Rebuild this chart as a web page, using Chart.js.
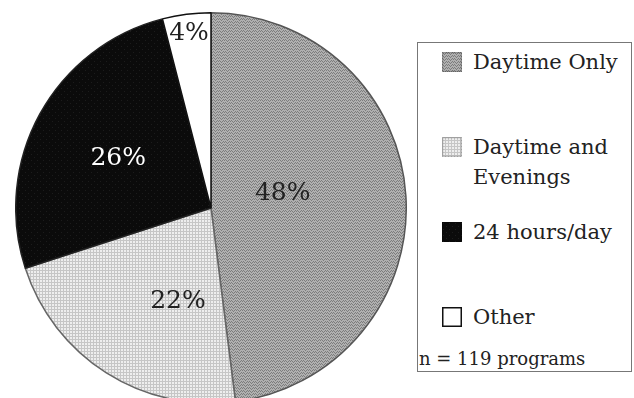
<!DOCTYPE html>
<html>
<head>
<meta charset="utf-8">
<script src="https://cdn.jsdelivr.net/npm/chart.js@4/dist/chart.umd.min.js"></script>
<style>
  html, body { margin: 0; padding: 0; background: #fff; }
  body { width: 634px; height: 398px; position: relative; overflow: hidden; font-family: 'DejaVu Serif', serif; color: #222; }
  #pieWrap { position: absolute; left: 15px; top: 12px; width: 392px; height: 392px; }
  #legend { position: absolute; left: 417px; top: 42px; width: 213px; height: 328px; border: 1.5px solid #777; }
  .row { position: absolute; left: 24px; display: flex; align-items: flex-start; }
  .row canvas { width: 20px; height: 20px; margin-right: 11px; flex: none; }
  .row span { font-size: 21px; line-height: 30px; width: 165px; margin-top: -5px; }
  #note { position: absolute; left: 1px; top: 305px; font-size: 18px; white-space: nowrap; }
</style>
</head>
<body>
<div id="pieWrap"><canvas id="pie" width="392" height="392"></canvas></div>
<div id="legend"></div>
<script>
// data
const categories = ['Daytime Only', 'Daytime and Evenings', '24 hours/day', 'Other'];
const shares = [48, 22, 26, 4];
const sampleNote = 'n = 119 programs';

// fill textures that mimic the printed hatching
function makePattern(kind) {
  const c = document.createElement('canvas');
  c.width = 6; c.height = 6;
  const g = c.getContext('2d');
  if (kind === 0) {
    g.fillStyle = '#b0b0b0'; g.fillRect(0, 0, 6, 6);
    g.fillStyle = '#7c7c7c';
    [[0,0],[1,1],[2,2],[3,1],[4,0],[5,1],[0,3],[1,4],[2,5],[3,4],[4,3],[5,4]].forEach(p => g.fillRect(p[0], p[1], 1, 1));
  } else if (kind === 1) {
    g.fillStyle = '#eeeeee'; g.fillRect(0, 0, 6, 6);
    g.fillStyle = '#c6c6c6';
    g.fillRect(0, 0, 6, 1); g.fillRect(0, 3, 6, 1);
    g.fillRect(0, 0, 1, 6); g.fillRect(3, 0, 1, 6);
  } else if (kind === 2) {
    g.fillStyle = '#0b0b0b'; g.fillRect(0, 0, 6, 6);
    g.fillStyle = '#1c1c1c'; g.fillRect(1, 1, 1, 1); g.fillRect(4, 4, 1, 1);
  } else {
    g.fillStyle = '#ffffff'; g.fillRect(0, 0, 6, 6);
  }
  return c;
}
const tiles = categories.map((_, i) => makePattern(i));
const ctx = document.getElementById('pie').getContext('2d');
const fills = tiles.map(t => ctx.createPattern(t, 'repeat'));

// where each percentage sits inside its slice (fraction of radius, angle nudge in degrees)
const labelRadius = [0.375, 0.51, 0.54, 0.9];
const labelNudge = [-8, -13, -0.5, 0];
const labelColor = ['#222', '#222', '#fff', '#222'];

const pctLabels = {
  id: 'pctLabels',
  afterDatasetsDraw(chart) {
    const c = chart.ctx;
    const meta = chart.getDatasetMeta(0);
    c.save();
    c.font = '25px "DejaVu Serif"';
    c.textAlign = 'center';
    c.textBaseline = 'middle';
    meta.data.forEach((arc, i) => {
      const p = arc.getProps(['x', 'y', 'startAngle', 'endAngle', 'outerRadius'], true);
      const a = (p.startAngle + p.endAngle) / 2 + labelNudge[i] * Math.PI / 180;
      const r = p.outerRadius * labelRadius[i];
      c.fillStyle = labelColor[i];
      c.fillText(shares[i] + '%', p.x + r * Math.cos(a), p.y + r * Math.sin(a));
    });
    c.restore();
  }
};

new Chart(ctx, {
  type: 'pie',
  data: {
    labels: categories,
    datasets: [{
      data: shares,
      backgroundColor: fills,
      borderColor: ['#555', '#666', '#222', '#111'],
      borderWidth: [1.5, 1.5, 1.5, 1.5]
    }]
  },
  options: {
    responsive: false,
    animation: false,
    layout: { padding: 0 },
    plugins: { legend: { display: false }, tooltip: { enabled: false } }
  },
  plugins: [pctLabels]
});

// boxed legend on the right
const legend = document.getElementById('legend');
const rowTops = [9, 94, 179, 264];
categories.forEach((name, i) => {
  const row = document.createElement('div');
  row.className = 'row';
  row.style.top = rowTops[i] + 'px';
  const sw = document.createElement('canvas');
  sw.width = 20; sw.height = 20;
  const sg = sw.getContext('2d');
  sg.fillStyle = sg.createPattern(tiles[i], 'repeat');
  sg.fillRect(0, 0, 20, 20);
  sg.strokeStyle = i === 3 ? '#111' : 'rgba(0,0,0,0.25)';
  sg.lineWidth = i === 3 ? 1.5 : 1;
  sg.strokeRect(0.75, 0.75, 18.5, 18.5);
  const tx = document.createElement('span');
  tx.textContent = name;
  row.appendChild(sw);
  row.appendChild(tx);
  legend.appendChild(row);
});
const note = document.createElement('div');
note.id = 'note';
note.textContent = sampleNote;
legend.appendChild(note);
</script>
</body>
</html>
